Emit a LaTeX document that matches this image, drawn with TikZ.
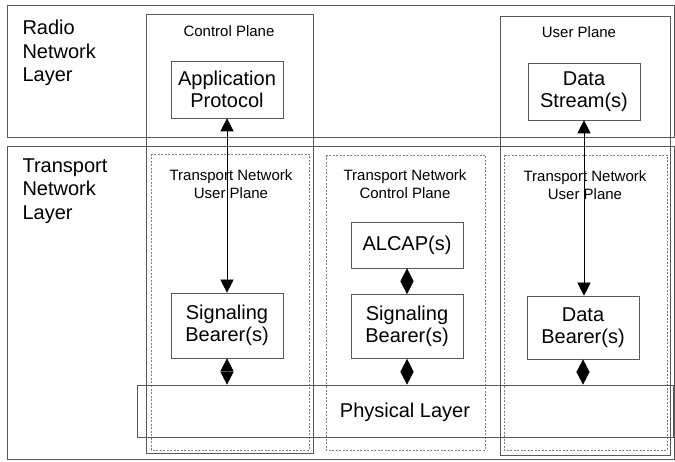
\documentclass[tikz,border=0pt]{standalone}
\usepackage{fontspec}
\setmainfont{Liberation Sans}
\usetikzlibrary{arrows.meta}
\begin{document}
\begin{tikzpicture}[x=1pt,y=-1pt,
  frame/.style={draw=black!65,line width=0.6pt},
  dframe/.style={draw=black!50,line width=0.5pt,dash pattern=on 2pt off 1.5pt},
  blk/.style={frame,fill=white,minimum width=112pt,align=center,font=\fontsize{20}{22}\selectfont,inner sep=0pt},
  big/.style={align=left,font=\fontsize{20}{23.5}\selectfont,anchor=west},
  small/.style={align=center,font=\fontsize{15}{18}\selectfont},
  dbl/.style={line width=0.6pt,{Triangle[length=13pt,width=13pt]}-{Triangle[length=13pt,width=13pt]}},
]
\useasboundingbox (0,0) rectangle (675,462);
% layers
\draw[frame] (7,5) rectangle (674,137);
\draw[frame] (7,146) rectangle (674,459);
\node[big] (rnl) at (19,53) {Radio\\Network\\Layer};
\node[big] (tnl) at (19,191) {Transport\\Network\\Layer};
% planes
\draw[frame] (146,14) rectangle (313,453);
\draw[frame] (500,16) rectangle (670,455);
\draw[dframe] (151,154) rectangle (309,450);
\draw[dframe] (326,155) rectangle (485,450);
\draw[dframe] (504,155) rectangle (667,450);
\node[small] (cp) at (229,31) {Control Plane};
\node[small] (up) at (579,32) {User Plane};
\node[small] (tnup1) at (231,184) {Transport Network\\User Plane};
\node[small] (tncp) at (405,184) {Transport Network\\Control Plane};
\node[small] (tnup2) at (585,185) {Transport Network\\User Plane};
% physical layer
\node[frame,minimum width=536pt,minimum height=52pt,inner sep=0pt] (phy) at (405,411) {};
\node[font=\fontsize{20}{22}\selectfont] (phyl) at (405,412) {Physical Layer};
% protocol blocks
\node[blk,minimum height=57pt] (app) at (227,89.5) {Application\\Protocol};
\node[blk,minimum height=57pt] (ds) at (584,91.5) {Data\\Stream(s)};
\node[blk,minimum height=46pt] (alcap) at (407,245) {ALCAP(s)};
\node[blk,minimum height=65pt] (sb1) at (227,325.5) {Signaling\\Bearer(s)};
\node[blk,minimum height=64pt] (sb2) at (407,326.5) {Signaling\\Bearer(s)};
\node[blk,minimum height=63pt] (db) at (583,327.5) {Data\\Bearer(s)};
% connectors
\draw[dbl] (app.south) -- (sb1.north);
\draw[dbl] (ds.south) -- (ds.south |- db.north);
\draw[dbl] (alcap.south) -- (sb2.north);
\draw[dbl] (sb1.south) -- (sb1.south |- phy.north);
\draw[dbl] (sb2.south) -- (sb2.south |- phy.north);
\draw[dbl] (db.south) -- (db.south |- phy.north);
\end{tikzpicture}
\end{document}
